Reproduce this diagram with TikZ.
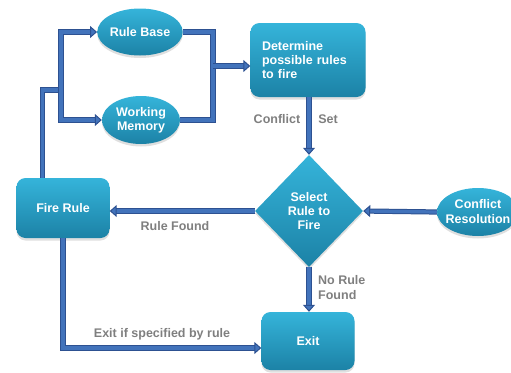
\documentclass[tikz,border=0pt]{standalone}
\usepackage{fontspec}
\setmainfont{Liberation Sans}
\usetikzlibrary{shapes.geometric,arrows.meta,shadows,calc}
\definecolor{boxtop}{HTML}{35B4DA}
\definecolor{boxbot}{HTML}{1C82A6}
\definecolor{flowblue}{HTML}{4273BB}
\definecolor{flowdark}{HTML}{2D5191}
\definecolor{labgrey}{HTML}{7F7F7F}
\tikzset{
  base/.style={top color=boxtop, bottom color=boxbot, draw=none,
    text=white, font=\fontsize{12.5}{14}\selectfont\bfseries,
    drop shadow={opacity=0.25, shadow xshift=0pt, shadow yshift=-2.5pt},
    inner sep=0pt, align=center},
  oval/.style={base, ellipse},
  stepbox/.style={base, rectangle, rounded corners=9pt},
  choice/.style={base, diamond},
  flowline/.style={draw=flowdark, line width=1pt, double=flowblue, double distance=3.2pt},
  flowarrow/.style={flowline, -{Triangle[width=12pt,length=7pt,fill=flowblue]}},
  flowlabel/.style={text=labgrey, font=\fontsize{12.5}{15}\selectfont\bfseries,
    inner sep=0pt, align=left}
}
\begin{document}
\begin{tikzpicture}[x=1pt,y=-1pt]
\useasboundingbox (0,0) rectangle (511,372);
\begin{scope}
\clip (0,0) rectangle (511,372);

% nodes
\node[oval, minimum width=80pt, minimum height=47pt] (rb) at (140,32) {Rule Base};
\node[oval, minimum width=78pt, minimum height=48pt] (wm) at (141,120) {Working\\Memory};
\node[stepbox, minimum width=115pt, minimum height=74pt, text width=92pt, align=left] (det) at (308,60) {Determine\\possible rules\\to fire};
\node[choice, minimum width=108pt, minimum height=112pt] (sel) at (309,211) {Select\\Rule to\\Fire};
\node[oval, minimum width=82pt, minimum height=48pt,
  label={[text=white, font=\fontsize{12.5}{15}\selectfont\bfseries, align=center]center:{Conflict\\Resolution}}] (cres) at (478,212) {};
\node[stepbox, minimum width=93pt, minimum height=60pt] (fire) at (63,208) {Fire Rule};
\node[stepbox, minimum width=93pt, minimum height=58pt] (exit) at (308,341) {Exit};

% junction points of the branching lines
\coordinate (jr) at (213,66);
\coordinate (jl) at (61,90);
\coordinate (fireup) at ($(fire.north west)+(26.5,0)$);
\coordinate (exitin) at ($(exit.west)+(0,7)$);

% connectors
\draw[flowline] (rb.east) -| (jr) |- (wm.east);
\draw[flowarrow] (jr) -- (jr -| det.west);
\draw[flowline] (fireup) |- (jl);
\draw[flowarrow] (jl) |- (rb.west);
\draw[flowarrow] (jl) |- (wm.west);
\draw[flowarrow] (sel.north |- det.south) -- (sel.north);
\draw[flowarrow] (cres.west) -- (sel.east);
\draw[flowarrow] (sel.west) -- (sel.west -| fire.east);
\draw[flowarrow] (sel.south) -- (sel.south |- exit.north);
\draw[flowarrow] (fire.south) |- (exitin);

% connector labels
\node[flowlabel] (lconf) at (277,119) {Conflict};
\node[flowlabel] (lset) at (328,119) {Set};
\node[flowlabel] (lfound) at (175,226) {Rule Found};
\node[flowlabel, anchor=west] (lnone) at (318,288) {No Rule\\Found};
\node[flowlabel] (lexit) at (162,334) {Exit if specified by rule};
\end{scope}
\end{tikzpicture}
\end{document}
